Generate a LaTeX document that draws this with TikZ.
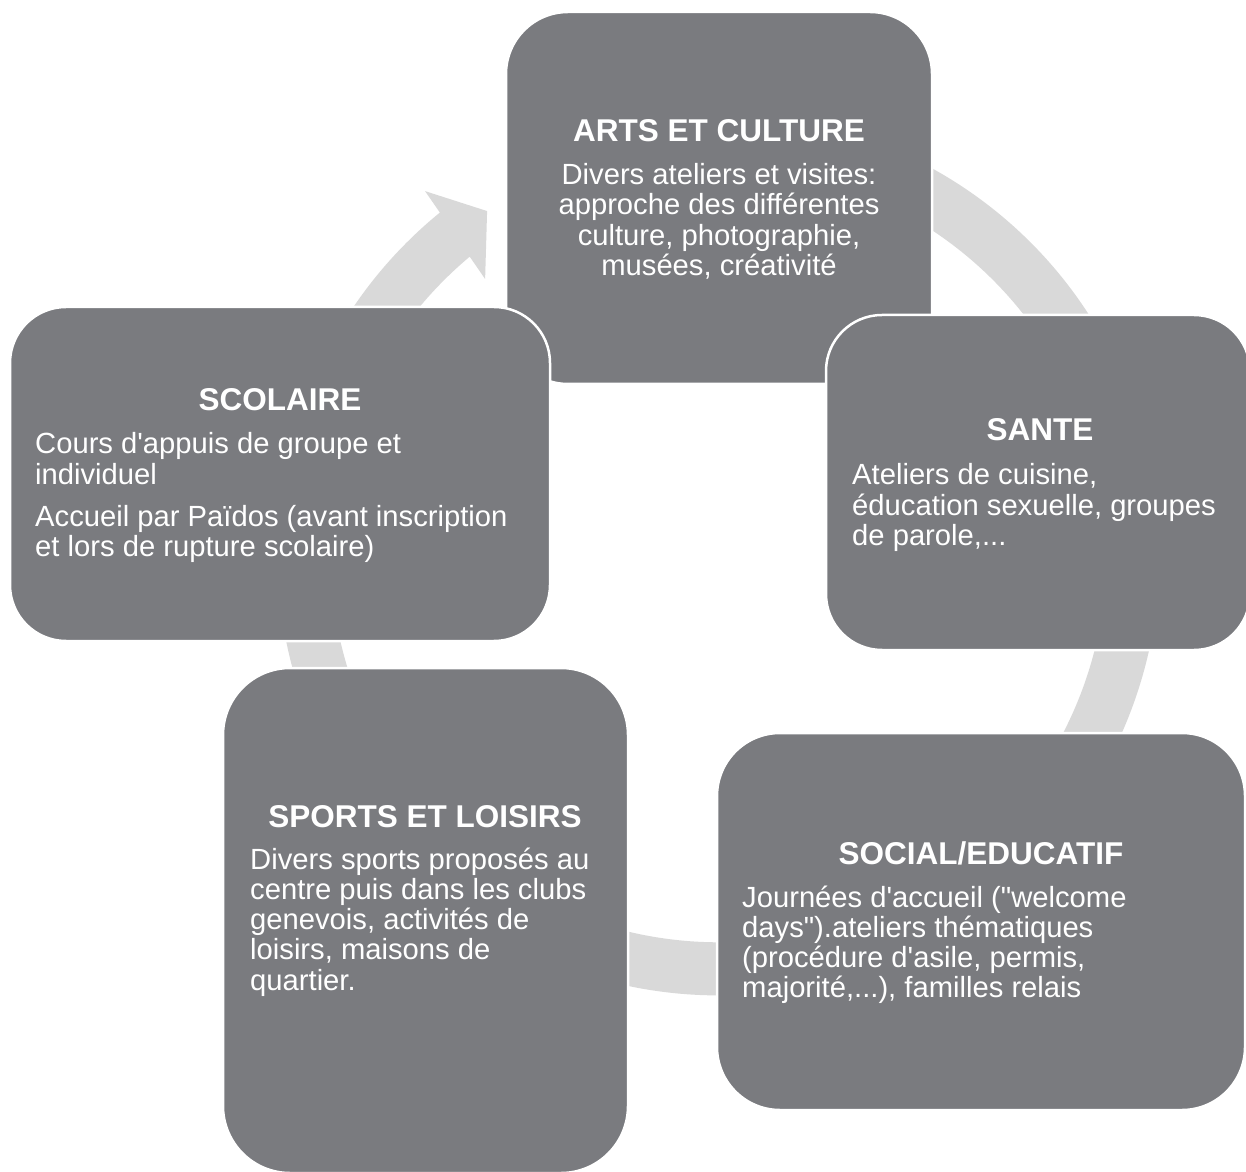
\documentclass[tikz,border=0pt]{standalone}
\usepackage{fontspec}
\setmainfont{Liberation Sans}[Ligatures=TeXOff]
\definecolor{boxgray}{RGB}{122,123,127}
\definecolor{ringgray}{RGB}{217,217,217}
\begin{document}
\begin{tikzpicture}[x=1pt,y=1pt,
  box/.style={draw=white, line width=2.5pt, fill=boxgray, rounded corners=#1, inner sep=0pt},
  titletxt/.style={text=white, font=\fontsize{31.5}{36}\selectfont\bfseries, inner sep=0pt, anchor=base},
  bodytxt/.style={text=white, font=\fontsize{29.2}{30.3}\selectfont, inner sep=0pt, anchor=base west},
  bodyctr/.style={text=white, font=\fontsize{29.2}{30.3}\selectfont, inner sep=0pt, anchor=base}]
\useasboundingbox (0,0) rectangle (1246,1171);
\fill[white] (0,0) rectangle (1246,1171);
% cycle ring with arrowhead
\coordinate (ringc) at (718.6,616.7);
\begin{scope}[shift={(ringc)}]
\fill[ringgray] (129.2:441pt) -- (128.95:467pt) -- (124:414pt) -- (130.3:361pt) -- (129.9:388pt)
  arc[start angle=129.9, end angle=475, radius=388pt] -- (475:441pt)
  arc[start angle=475, end angle=129.2, radius=441pt] -- cycle;
\end{scope}
% boxes
\node[box=62pt, minimum width=426pt, minimum height=372pt] (arts) at (719,973) {};
\node[box=56pt, minimum width=424pt, minimum height=335pt] (sante) at (1038,688.5) {};
\node[box=63pt, minimum width=528pt, minimum height=377pt] (social) at (981,249.5) {};
\node[box=67pt, minimum width=405pt, minimum height=505pt] (sports) at (425.5,250.5) {};
\node[box=56pt, minimum width=540pt, minimum height=334pt] (scolaire) at (280,697) {};
% texts
\node[titletxt] (artsT) at (719,1029.5) {ARTS ET CULTURE};
\node[bodyctr] (artsB) at (719,986.5) {\parbox[t]{420pt}{\centering Divers ateliers et visites:\\approche des différentes\\culture, photographie,\\musées, créativité}};
\node[titletxt] (scolT) at (280,760) {SCOLAIRE};
\node[bodytxt] (scolB) at (35,717) {\parbox[t]{520pt}{\raggedright Cours d'appuis de groupe et\\individuel\\[12pt]Accueil par Païdos (avant inscription\\et lors de rupture scolaire)}};
\node[titletxt] (santeT) at (1040,730) {SANTE};
\node[bodytxt] (santeB) at (852,686) {\parbox[t]{400pt}{\raggedright Ateliers de cuisine,\\éducation sexuelle, groupes\\de parole,...}};
\node[titletxt] (socT) at (981,307) {SOCIAL/EDUCATIF};
\node[bodytxt] (socB) at (742,264) {\parbox[t]{500pt}{\raggedright Journées d'accueil ("welcome\\days").ateliers thématiques\\(procédure d'asile, permis,\\majorité,...), familles relais}};
\node[titletxt] (sportT) at (425,344) {SPORTS ET LOISIRS};
\node[bodytxt] (sportB) at (250,302) {\parbox[t]{380pt}{\raggedright Divers sports proposés au\\centre puis dans les clubs\\genevois, activités de\\loisirs, maisons de\\quartier.}};
\end{tikzpicture}
\end{document}
